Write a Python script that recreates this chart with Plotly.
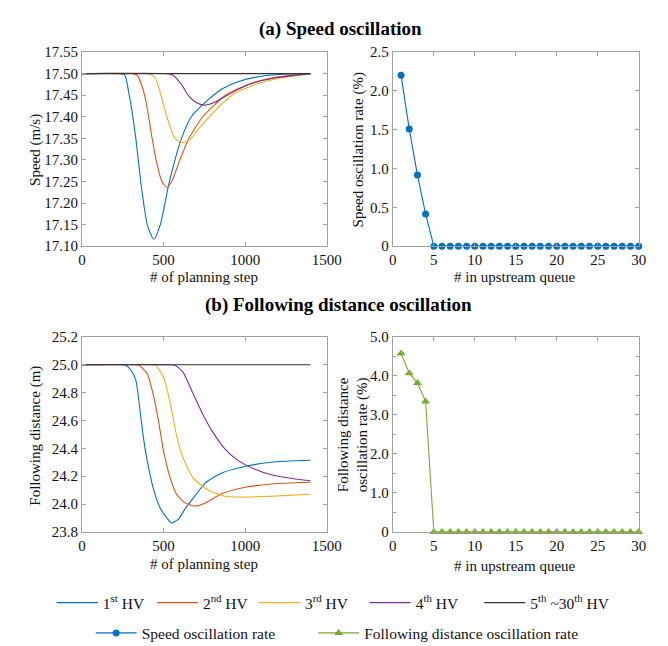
import plotly.graph_objects as go

# ---------------- data ----------------
# (a) speed (m/s) vs planning step
spd_hv1_x = [0, 238, 262, 290, 330, 360, 400, 440, 480, 536, 610, 670, 760, 860, 960, 1100, 1260, 1400]
spd_hv1_y = [17.50, 17.50, 17.497, 17.45, 17.35, 17.25, 17.15, 17.116, 17.15, 17.25, 17.35, 17.40, 17.435, 17.465, 17.482, 17.494, 17.499, 17.50]
spd_hv2_x = [0, 312, 340, 384, 430, 454, 490, 520, 550, 600, 656, 740, 880, 1020, 1160, 1300, 1400]
spd_hv2_y = [17.50, 17.50, 17.496, 17.45, 17.35, 17.30, 17.25, 17.2365, 17.25, 17.30, 17.35, 17.40, 17.45, 17.475, 17.49, 17.497, 17.50]
spd_hv3_x = [0, 400, 428, 450, 484, 520, 570, 614, 670, 700, 780, 920, 1060, 1220, 1400]
spd_hv3_y = [17.50, 17.50, 17.497, 17.49, 17.45, 17.40, 17.35, 17.34, 17.35, 17.365, 17.40, 17.45, 17.475, 17.49, 17.50]
spd_hv4_x = [0, 525, 555, 610, 650, 700, 750, 810, 890, 1020, 1180, 1400]
spd_hv4_y = [17.50, 17.50, 17.497, 17.475, 17.45, 17.433, 17.427, 17.433, 17.45, 17.475, 17.49, 17.50]
spd_rest_x = [0, 1400]
spd_rest_y = [17.50, 17.50]

# (b) following distance (m) vs planning step
dst_hv1_x = [0, 245, 272, 300, 330, 360, 380, 400, 440, 480, 520, 550, 590, 640, 700, 760, 860, 1000, 1160, 1400]
dst_hv1_y = [25.0, 25.0, 24.995, 24.96, 24.89, 24.63, 24.45, 24.31, 24.10, 23.97, 23.90, 23.865, 23.89, 23.98, 24.07, 24.155, 24.225, 24.27, 24.30, 24.314]
dst_hv2_x = [0, 325, 352, 400, 440, 470, 500, 540, 580, 630, 690, 760, 860, 1000, 1160, 1400]
dst_hv2_y = [25.0, 25.0, 24.995, 24.935, 24.77, 24.59, 24.38, 24.19, 24.07, 24.01, 23.986, 24.01, 24.075, 24.12, 24.144, 24.156]
dst_hv3_x = [0, 425, 452, 500, 540, 580, 620, 680, 760, 860, 960, 1080, 1240, 1400]
dst_hv3_y = [25.0, 25.0, 24.995, 24.91, 24.73, 24.49, 24.33, 24.19, 24.11, 24.06, 24.05, 24.053, 24.06, 24.07]
dst_hv4_x = [0, 545, 572, 620, 680, 740, 800, 880, 960, 1060, 1160, 1280, 1400]
dst_hv4_y = [25.0, 25.0, 24.995, 24.945, 24.795, 24.645, 24.52, 24.39, 24.31, 24.25, 24.21, 24.185, 24.167]
dst_rest_x = [0, 1400]
dst_rest_y = [25.0, 25.0]

# oscillation rates (%) vs position in upstream queue
queue_pos = list(range(1, 31))
speed_rate = [2.20, 1.51, 0.915, 0.415] + [0.0] * 26
dist_rate = [4.57, 4.07, 3.82, 3.34] + [0.0] * 26

hv_names = ["1<sup>st</sup> HV", "2<sup>nd</sup> HV", "3<sup>rd</sup> HV", "4<sup>th</sup> HV",
            "5<sup>th</sup> ~30<sup>th</sup> HV"]
hv_colors = ["#0072BD", "#D95319", "#EDB120", "#7E2F8E", "#333333"]

# ---------------- figure ----------------
FONT = "Liberation Serif, DejaVu Serif"
fig = go.Figure()

W, H = 668, 646
# legend key start positions (px) for each entry
row1_lx = [52, 155, 260, 374, 492]
row2_lx = [92, 321]

spd_sets = [(spd_hv1_x, spd_hv1_y), (spd_hv2_x, spd_hv2_y), (spd_hv3_x, spd_hv3_y),
            (spd_hv4_x, spd_hv4_y), (spd_rest_x, spd_rest_y)]
dst_sets = [(dst_hv1_x, dst_hv1_y), (dst_hv2_x, dst_hv2_y), (dst_hv3_x, dst_hv3_y),
            (dst_hv4_x, dst_hv4_y), (dst_rest_x, dst_rest_y)]

legend_ids = ["legend", "legend2", "legend3", "legend4", "legend5", "legend6", "legend7"]

for i, (xs, ys) in enumerate(spd_sets):
    fig.add_trace(go.Scatter(x=xs, y=ys, mode="lines", name=hv_names[i],
                             line=dict(color=hv_colors[i], width=1.1, shape="spline", smoothing=0.6),
                             xaxis="x", yaxis="y", legend=legend_ids[i], showlegend=True))
for i, (xs, ys) in enumerate(dst_sets):
    fig.add_trace(go.Scatter(x=xs, y=ys, mode="lines", name=hv_names[i],
                             line=dict(color=hv_colors[i], width=1.1, shape="spline", smoothing=0.6),
                             xaxis="x3", yaxis="y3", showlegend=False))

fig.add_trace(go.Scatter(x=queue_pos, y=speed_rate, mode="lines+markers", name="Speed oscillation rate",
                         line=dict(color="#0072BD", width=1.1),
                         marker=dict(symbol="circle", size=7, color="#0072BD"),
                         cliponaxis=False, xaxis="x2", yaxis="y2", legend="legend6"))
fig.add_trace(go.Scatter(x=queue_pos, y=dist_rate, mode="lines+markers",
                         name="Following distance oscillation rate",
                         line=dict(color="#77AC30", width=1.1),
                         marker=dict(symbol="triangle-up", size=8, color="#77AC30"),
                         cliponaxis=False, xaxis="x4", yaxis="y4", legend="legend7"))

LX = [72 / W, 324 / W]
RX = [392 / W, 645 / W]
TY = [1 - 236 / H, 1 - 37 / H]
BY = [1 - 529 / H, 1 - 329 / H]

axis_common = dict(showline=True, linecolor="#a0a0a0", linewidth=1, mirror="ticks",
                   ticks="inside", ticklen=4, tickcolor="#a0a0a0", showgrid=False, zeroline=False,
                   tickfont=dict(family=FONT, size=15, color="#111"))

layout = dict(
    width=W, height=H, margin=dict(l=0, r=0, t=0, b=0),
    plot_bgcolor="white", paper_bgcolor="white",
    font=dict(family=FONT, size=15, color="#111"),
    xaxis=dict(domain=LX, anchor="y", range=[0, 1500], tickvals=[0, 500, 1000, 1500], **axis_common),
    yaxis=dict(domain=TY, anchor="x", range=[17.10, 17.55],
               tickvals=[17.10 + 0.05 * k for k in range(10)],
               ticktext=["%.2f" % (17.10 + 0.05 * k) for k in range(10)], **axis_common),
    xaxis2=dict(domain=RX, anchor="y2", range=[0, 30], tickvals=[0, 5, 10, 15, 20, 25, 30], **axis_common),
    yaxis2=dict(domain=TY, anchor="x2", range=[0, 2.5], tickvals=[0, 0.5, 1.0, 1.5, 2.0, 2.5],
                ticktext=["0", "0.5", "1.0", "1.5", "2.0", "2.5"], **axis_common),
    xaxis3=dict(domain=LX, anchor="y3", range=[0, 1500], tickvals=[0, 500, 1000, 1500], **axis_common),
    yaxis3=dict(domain=BY, anchor="x3", range=[23.8, 25.2],
                tickvals=[23.8 + 0.2 * k for k in range(8)],
                ticktext=["%.1f" % (23.8 + 0.2 * k) for k in range(8)], **axis_common),
    xaxis4=dict(domain=RX, anchor="y4", range=[0, 30], tickvals=[0, 5, 10, 15, 20, 25, 30], **axis_common),
    yaxis4=dict(domain=BY, anchor="x4", range=[0, 5.0], tickvals=[0, 1, 2, 3, 4, 5],
                ticktext=["0", "1.0", "2.0", "3.0", "4.0", "5.0"],
                minor=dict(dtick=0.5, ticks="inside", ticklen=3, tickcolor="#a0a0a0"), **axis_common),
)
LEG_OFF = 11
for i, px in enumerate(row1_lx):
    layout[legend_ids[i]] = dict(orientation="h", x=(px - LEG_OFF) / W, xanchor="left",
                                 y=1 - 602 / H, yanchor="middle", itemwidth=41,
                                 font=dict(family=FONT, size=15.5, color="#111"),
                                 bgcolor="rgba(0,0,0,0)")
for j, px in enumerate(row2_lx):
    layout[legend_ids[5 + j]] = dict(orientation="h", x=(px - LEG_OFF) / W, xanchor="left",
                                     y=1 - 633 / H, yanchor="middle", itemwidth=41,
                                     font=dict(family=FONT, size=15.5, color="#111"),
                                     bgcolor="rgba(0,0,0,0)")
fig.update_layout(**layout)

ann = []
def A(text, x, y, angle=0, size=15, bold=False):
    ann.append(dict(text=("<b>%s</b>" % text) if bold else text, x=x / W, y=1 - y / H,
                    xref="paper", yref="paper", showarrow=False, textangle=angle,
                    xanchor="center", yanchor="middle",
                    font=dict(family=FONT, size=size, color="#000" if bold else "#111")))

A("(a) Speed oscillation", 338, 13, size=19, bold=True)
A("(b) Following distance oscillation", 336, 296, size=19, bold=True)
A("# of planning step", 198, 268)
A("# in upstream queue", 518, 268)
A("# of planning step", 198, 562)
A("# in upstream queue", 518, 564)
A("Speed (m/s)", 24, 137, angle=-90)
A("Speed oscillation rate (%)", 357, 137, angle=-90)
A("Following distance (m)", 24, 430, angle=-90)
A("Following distance<br>oscillation rate (%)", 351, 430, angle=-90)
fig.update_layout(annotations=ann)

fig.write_html("out.html")
